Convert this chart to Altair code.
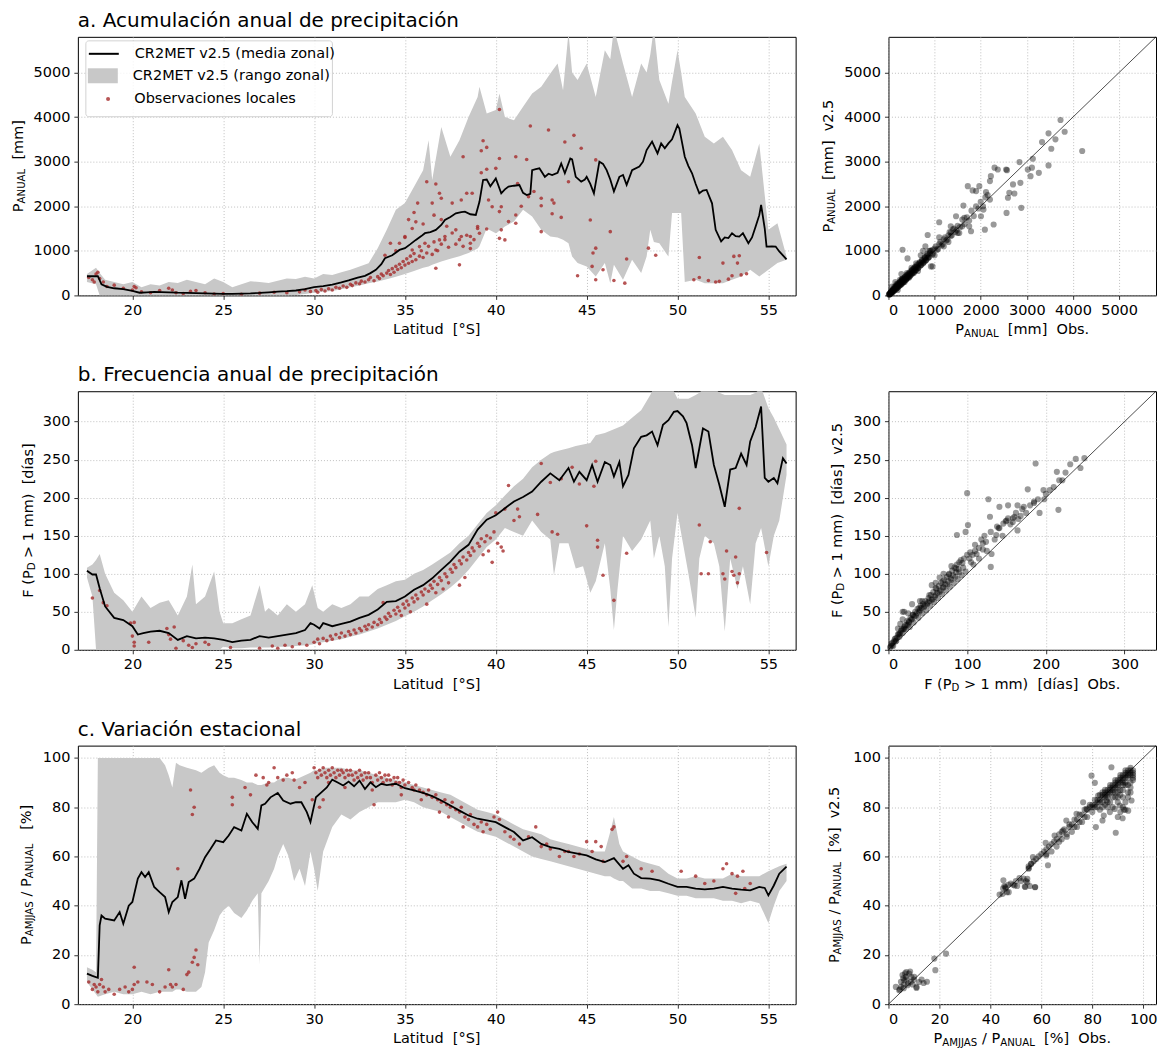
import altair as alt
import pandas as pd

FONT = "DejaVu Sans"
GRAY = "#c8c8c8"
RED = "#a52a2a"
NB = "\u00a0"

LAT_TICKS = [20, 25, 30, 35, 40, 45, 50, 55]
LEG_LABELS = ["CR2MET v2.5 (media zonal)", "CR2MET v2.5 (rango zonal)", "Observaciones locales"]
TITLES = ["a. Acumulación anual de precipitación", "b. Frecuencia anual de precipitación", "c. Variación estacional"]

# ---------------- panel a : annual precipitation [mm] ----------------
A_MEAN = [(17.5, 430), (17.8, 430), (18.1, 430), (18.3, 250), (18.6, 190), (19.0, 160), (19.5, 140), (20.0, 100),
          (20.4, 60), (20.8, 70), (21.2, 80), (21.6, 75), (22.0, 70), (22.5, 60), (23.0, 55), (23.5, 50), (24.0, 45),
          (24.5, 40), (25.0, 35), (25.5, 35), (26.0, 40), (26.5, 45), (27.0, 55), (27.5, 70), (28.0, 85), (28.5, 95),
          (29.0, 110), (29.5, 140), (30.0, 187), (30.5, 210), (31.0, 240), (31.5, 290), (31.9, 335), (32.4, 400),
          (32.8, 440), (33.1, 500), (33.4, 575), (33.7, 700), (33.9, 835), (34.3, 900), (34.7, 1020), (35.0, 1060),
          (35.3, 1150), (35.6, 1245), (35.9, 1330), (36.1, 1395), (36.4, 1420), (36.7, 1470), (37.0, 1580),
          (37.2, 1690), (37.5, 1760), (37.8, 1840), (38.1, 1870), (38.3, 1880), (38.6, 1820), (38.9, 1805),
          (39.1, 2100), (39.3, 2590), (39.5, 2600), (39.7, 2450), (40.0, 2625), (40.3, 2290), (40.5, 2380),
          (40.7, 2440), (41.0, 2460), (41.3, 2475), (41.5, 2300), (41.7, 2250), (41.9, 2280), (42.0, 2810),
          (42.2, 2830), (42.4, 2850), (42.7, 2660), (42.9, 2730), (43.1, 2700), (43.4, 2750), (43.6, 2960),
          (43.8, 2740), (44.1, 3070), (44.2, 3050), (44.4, 2660), (44.7, 2550), (44.9, 2600), (45.0, 2660),
          (45.2, 2500), (45.4, 2290), (45.7, 3000), (45.9, 2950), (46.1, 2810), (46.3, 2600), (46.5, 2330),
          (46.8, 2660), (47.0, 2700), (47.2, 2480), (47.5, 2810), (47.9, 2890), (48.1, 3000), (48.3, 3260),
          (48.6, 3450), (48.9, 3185), (49.1, 3410), (49.3, 3300), (49.5, 3410), (49.7, 3500), (50.0, 3820),
          (50.1, 3745), (50.4, 3110), (50.6, 2900), (50.8, 2740), (51.0, 2500), (51.2, 2290), (51.4, 2350),
          (51.6, 2365), (51.9, 2065), (52.1, 1470), (52.4, 1210), (52.6, 1300), (52.8, 1285), (53.0, 1395),
          (53.2, 1330), (53.4, 1320), (53.6, 1395), (53.9, 1170), (54.1, 1300), (54.3, 1545), (54.5, 1800),
          (54.6, 2030), (54.8, 1500), (54.9, 1095), (55.2, 1100), (55.4, 1095), (55.6, 985), (55.8, 900), (56.0, 810)]

A_RANGE = [(17.5, 300, 480), (18.0, 250, 620), (18.2, 0, 500), (18.5, 0, 350), (19.0, 0, 300), (19.5, 0, 250),
           (20.0, 0, 300), (20.5, 0, 180), (21.0, 0, 250), (21.5, 0, 220), (22.0, 0, 300), (22.5, 0, 280),
           (23.0, 0, 350), (23.5, 0, 300), (24.0, 0, 250), (24.5, 0, 380), (25.0, 0, 300), (25.5, 0, 180),
           (26.0, 0, 250), (26.5, 0, 320), (27.0, 0, 300), (27.5, 0, 280), (28.0, 0, 330), (28.5, 0, 380),
           (29.0, 10, 370), (29.5, 30, 420), (30.0, 60, 380), (30.5, 80, 480), (31.0, 100, 460), (31.5, 140, 520),
           (32.0, 180, 575), (32.5, 220, 650), (33.0, 270, 720), (33.5, 310, 1060), (34.0, 360, 1470),
           (34.5, 420, 1920), (35.0, 480, 2070), (35.5, 550, 2440), (36.0, 620, 2810), (36.3, 650, 3480),
           (36.5, 690, 2590), (37.0, 760, 3780), (37.5, 820, 3110), (38.0, 880, 3480), (38.5, 950, 4000),
           (39.0, 1050, 4450), (39.1, 1100, 4680), (39.5, 1500, 4080), (40.0, 1395, 4160), (40.2, 1450, 4530),
           (40.5, 1545, 4000), (41.0, 1655, 3930), (41.5, 1920, 4230), (42.0, 1770, 4530), (42.5, 1470, 4680),
           (43.0, 1320, 4980), (43.4, 1300, 5200), (43.7, 1250, 4600), (44.0, 1170, 5900), (44.2, 870, 5000),
           (44.5, 725, 4830), (45.0, 650, 5200), (45.5, 425, 4450), (46.0, 725, 5500), (46.3, 275, 5300),
           (46.5, 685, 6000), (47.0, 350, 5200), (47.5, 800, 4450), (48.0, 500, 5200), (48.3, 870, 5000),
           (48.5, 1470, 5400), (48.7, 1200, 6000), (49.0, 1170, 4830), (49.5, 870, 4300), (49.7, 1850, 4800),
           (50.0, 1850, 5500), (50.2, 1850, 5000), (50.4, 300, 4450), (51.0, 350, 4080), (51.5, 275, 3560),
           (52.0, 275, 3410), (52.5, 275, 3560), (53.0, 350, 3260), (53.5, 425, 2810), (54.0, 575, 2660),
           (54.5, 425, 3410), (55.0, 575, 1470), (55.5, 725, 1620), (56.0, 800, 870)]

A_OBS = [(17.6, 400), (17.8, 350), (17.9, 300), (18.0, 480), (18.1, 520), (18.2, 380), (18.4, 300), (18.6, 200),
         (19.0, 230), (19.5, 160), (20.0, 120), (20.1, 200), (20.2, 170), (20.5, 80), (21.0, 60), (21.5, 110),
         (22.0, 160), (22.2, 120), (22.4, 60), (22.8, 40), (23.2, 90), (23.5, 110), (24.0, 60), (24.5, 30),
         (25.0, 40), (26.0, 25), (27.0, 50), (27.8, 70), (28.5, 60), (29.2, 80), (29.5, 120),
         (29.8, 90), (30.1, 110), (30.2, 70), (30.4, 130), (30.6, 100), (30.8, 150), (31.0, 120), (31.2, 180),
         (31.4, 160), (31.6, 210), (31.8, 180), (32.0, 250), (32.1, 220), (32.3, 280), (32.5, 260), (32.6, 320),
         (32.8, 300), (33.0, 350), (33.1, 400), (33.3, 330), (33.5, 420), (33.6, 380), (33.7, 480), (33.8, 440),
         (34.0, 500), (34.1, 560), (34.2, 470), (34.3, 600), (34.4, 520), (34.5, 650), (34.6, 580), (34.7, 700),
         (34.8, 620), (34.9, 760), (35.0, 680), (35.1, 820), (35.2, 720), (35.3, 880), (35.4, 760), (35.5, 940),
         (35.6, 800), (35.8, 880), (35.9, 1000), (36.0, 850), (36.2, 950), (36.3, 1100), (36.5, 920),
         (36.6, 1200), (36.8, 1000), (37.0, 1150), (37.2, 1250), (37.4, 1080), (37.6, 1400), (37.8, 1150),
         (38.0, 1250), (38.2, 1100), (38.4, 1350), (38.6, 1050), (38.8, 1250), (39.0, 1500), (33.9, 900),
         (34.5, 1000), (35.0, 1300), (35.4, 1500), (35.2, 1700), (35.6, 1650), (36.0, 1600), (36.6, 1800),
         (37.0, 1700), (37.3, 1550),
         (40.2, 4170), (41.9, 3800), (42.9, 3710), (44.3, 3590), (43.8, 3440), (44.7, 3300), (39.5, 3320),
         (39.3, 3470), (39.2, 3245), (38.2, 3110), (40.2, 3070), (41.1, 3110), (41.7, 3050), (39.2, 2750),
         (39.5, 2830), (40.0, 2850), (36.2, 2550), (36.7, 2500), (44.0, 2550), (45.5, 3040), (41.2, 2510),
         (42.1, 2330), (41.8, 2215), (38.7, 2290), (38.4, 2290), (38.1, 2140), (37.6, 2070), (36.9, 2290),
         (37.0, 2180), (36.5, 2070), (35.7, 2070), (35.5, 1860), (43.1, 2140), (43.2, 2070), (42.5, 2180),
         (42.5, 2010), (43.1, 1830), (43.6, 1750), (41.1, 1805), (40.2, 1880), (40.3, 1990), (39.8, 1990),
         (39.6, 2140), (41.4, 2000), (41.1, 1620), (40.7, 1655), (40.3, 1470), (40.5, 1245), (40.2, 1280),
         (42.5, 1430), (39.5, 1490), (39.0, 1545), (39.1, 1395), (38.6, 1170), (38.6, 1320), (38.1, 1320),
         (37.8, 1470), (37.2, 1320), (36.9, 1245), (36.7, 1020), (36.1, 1170), (35.8, 1095), (35.4, 1020),
         (35.0, 1320), (34.7, 1170), (34.2, 1170), (36.7, 610), (38.0, 685), (46.3, 1430), (45.2, 1690),
         (45.5, 1060), (45.35, 950), (45.3, 650), (44.5, 440), (45.5, 350), (45.9, 575), (46.5, 335),
         (47.1, 275), (47.2, 815), (48.4, 1060), (48.8, 900), (51.2, 850), (50.9, 350), (51.2, 400),
         (51.7, 335), (52.1, 300), (52.5, 725), (53.1, 875), (53.4, 890), (53.3, 725), (53.0, 440),
         (52.8, 365), (53.5, 460), (53.8, 485), (52.3, 315)]

A_SCATTER = [(3730, 3935), (3820, 3670), (3470, 3635), (3330, 3440), (3620, 3500), (3530, 3290), (4200, 3240),
             (3130, 3065), (3470, 2915), (3260, 2750), (3020, 2825), (3080, 2675), (3110, 2865), (2840, 2990),
             (2300, 2865), (2370, 2825), (2550, 2825), (2570, 2810), (2860, 2525), (2700, 2490), (2620, 2300),
             (2590, 2190), (2730, 2285), (2560, 1850), (2880, 1965), (2280, 1590), (2090, 1475), (2060, 1925),
             (2115, 2315), (2200, 2565), (2220, 2675), (1970, 2450), (1900, 2340), (1825, 2355), (1720, 2450),
             (1625, 2015), (1645, 1740), (1465, 1775), (1535, 1400), (1100, 1640), (1355, 1415), (1750, 1550),
             (1790, 1440), (2005, 1775), (305, 1025), (413, 830), (850, 1355), (955, 1025), (955, 650),
             (50, 60), (80, 70), (100, 120), (120, 110), (150, 170), (170, 150), (200, 230), (220, 200),
             (250, 280), (270, 240), (300, 330), (320, 290), (350, 380), (380, 350), (400, 430), (420, 400),
             (450, 480), (470, 440), (500, 540), (520, 500), (550, 600), (580, 560), (600, 650), (630, 610),
             (660, 700), (700, 680), (720, 760), (750, 720), (780, 820), (800, 780), (830, 880), (860, 840),
             (900, 950), (950, 920), (1000, 1050), (1050, 1020), (1100, 1150), (1150, 1120), (1200, 1260),
             (1250, 1230), (1300, 1350), (1350, 1330), (1400, 1480), (1450, 1420), (1500, 1560), (1550, 1530),
             (1600, 1700), (1650, 1600), (1700, 1750), (1750, 1680), (1800, 1900), (1850, 1780), (1900, 2000),
             (1950, 1950), (2000, 2100), (2050, 2000), (2100, 2200), (2150, 2250), (2200, 2150), (30, 40),
             (10, 20), (60, 100), (130, 200), (180, 260), (250, 350), (300, 380), (350, 300), (400, 500),
             (450, 400), (500, 620), (550, 500), (700, 900), (750, 1000), (800, 1100), (900, 1000), (1100, 1300),
             (1000, 900), (1200, 1100), (1350, 1550), (1300, 1200), (1500, 1400), (1600, 1550), (880, 1000),
             (920, 650), (600, 720), (640, 550), (280, 480), (150, 300), (80, 200), (200, 120), (20, 30),
             (40, 30), (60, 70), (70, 90), (90, 80), (110, 140), (130, 120), (160, 190), (190, 170), (210, 250),
             (240, 220), (260, 300), (290, 260), (310, 350), (340, 320), (360, 410), (390, 370), (410, 450),
             (440, 420), (460, 500), (490, 470), (510, 560), (540, 520), (560, 610), (590, 570), (610, 640),
             (650, 620), (680, 730), (710, 690), (740, 780), (770, 750), (790, 840), (820, 800), (840, 900),
             (870, 860), (15, 25), (25, 20), (35, 50), (45, 40), (55, 75), (65, 55), (75, 100), (85, 75),
             (95, 130), (105, 95), (115, 150), (125, 110), (140, 180), (155, 140), (165, 210), (175, 160),
             (185, 230), (195, 180), (205, 260), (215, 200), (230, 280), (245, 230), (255, 310), (265, 250),
             (275, 330), (285, 270), (295, 360), (305, 290), (315, 370), (330, 310), (345, 400), (355, 340),
             (370, 430), (385, 360), (395, 460), (405, 390), (425, 480), (435, 410), (455, 520), (475, 450),
             (495, 560), (515, 490), (535, 590), (555, 530), (575, 640), (595, 570), (625, 690), (645, 620),
             (675, 740), (695, 670), (725, 800), (755, 730), (785, 860), (815, 790), (845, 930), (885, 860),
             (925, 1000), (965, 940), (1025, 1100), (1075, 1040), (1125, 1200), (1175, 1150), (1225, 1300),
             (1275, 1250), (1325, 1420), (1375, 1350), (1425, 1500), (1475, 1460)]

# ---------------- panel b : frequency of days with P > 1 mm ----------------
B_MEAN = [(17.5, 104), (17.8, 99), (18.0, 99), (18.2, 81), (18.5, 57), (19.0, 42), (19.5, 39), (20.0, 31),
          (20.3, 20), (20.6, 22), (21.0, 24), (21.5, 25), (22.0, 22), (22.5, 13), (23.0, 18), (23.5, 15),
          (24.0, 16), (24.5, 15), (25.0, 13), (25.5, 10), (26.0, 12), (26.5, 13), (27.0, 18), (27.5, 16),
          (28.0, 18), (28.5, 20), (29.0, 22), (29.5, 26), (29.8, 35), (30.0, 33), (30.3, 28), (30.5, 35),
          (31.0, 31), (31.5, 34), (32.0, 37), (32.5, 42), (33.0, 46), (33.5, 53), (34.0, 63), (34.5, 64),
          (35.0, 70), (35.5, 79), (36.0, 85), (36.5, 94), (37.0, 105), (37.5, 116), (38.0, 129), (38.5, 138),
          (39.0, 158), (39.5, 171), (40.0, 177), (40.5, 186), (41.0, 195), (41.5, 201), (42.0, 208), (42.5, 221),
          (43.0, 232), (43.5, 223), (44.0, 239), (44.3, 221), (44.6, 234), (45.0, 223), (45.3, 243), (45.6, 221),
          (46.0, 247), (46.3, 243), (46.5, 228), (46.8, 247), (47.0, 215), (47.3, 230), (47.6, 265), (48.0, 280),
          (48.3, 282), (48.6, 287), (48.9, 269), (49.2, 296), (49.5, 302), (49.8, 313), (50.0, 314), (50.3, 307),
          (50.5, 298), (50.8, 269), (51.0, 239), (51.2, 265), (51.4, 291), (51.7, 287), (52.0, 243), (52.3, 217),
          (52.6, 188), (52.9, 237), (53.2, 239), (53.5, 258), (53.8, 243), (54.0, 274), (54.3, 293), (54.6, 320),
          (54.8, 226), (55.0, 221), (55.3, 226), (55.5, 219), (55.8, 252), (56.0, 245)]

B_RANGE = [(17.5, 95, 108), (17.8, 70, 112), (18.0, 0, 118), (18.2, 0, 126), (18.5, 0, 100), (19.0, 0, 75),
           (19.5, 0, 65), (20.0, 0, 50), (20.5, 0, 70), (21.0, 0, 55), (21.5, 0, 62), (22.0, 0, 65), (22.5, 0, 45),
           (23.0, 0, 70), (23.3, 0, 112), (23.5, 0, 60), (24.0, 0, 70), (24.5, 0, 103), (24.8, 0, 50),
           (25.0, 4, 35), (25.5, 2, 35), (26.0, 2, 40), (26.5, 3, 45), (27.0, 3, 85), (27.3, 3, 50),
           (27.5, 3, 55), (28.0, 4, 45), (28.5, 4, 60), (29.0, 5, 50), (29.5, 6, 60), (29.9, 7, 85),
           (30.2, 9, 55), (30.5, 10, 50), (31.0, 12, 60), (31.5, 14, 55), (32.0, 17, 60), (32.5, 20, 70),
           (33.0, 24, 70), (33.5, 28, 80), (34.0, 33, 85), (34.5, 38, 90), (35.0, 44, 92), (35.5, 50, 100),
           (36.0, 57, 105), (36.5, 65, 112), (37.0, 73, 120), (37.5, 82, 128), (38.0, 92, 140), (38.5, 105, 150),
           (39.0, 120, 165), (39.5, 135, 180), (40.0, 145, 190), (40.5, 160, 203), (41.0, 155, 215),
           (41.5, 150, 225), (42.0, 170, 240), (42.5, 155, 250), (43.0, 145, 258), (43.2, 98, 260),
           (43.5, 140, 262), (44.0, 140, 265), (44.4, 107, 268), (44.8, 110, 270), (45.2, 75, 272),
           (45.5, 90, 282), (46.0, 140, 285), (46.3, 80, 288), (46.5, 26, 290), (46.7, 80, 292), (47.0, 150, 295),
           (47.5, 130, 305), (48.0, 145, 315), (48.5, 170, 335), (48.7, 120, 345), (49.0, 150, 345),
           (49.3, 110, 345), (49.5, 30, 345), (49.7, 120, 345), (50.0, 180, 330), (50.3, 140, 330),
           (50.6, 100, 330), (51.0, 42, 335), (51.2, 120, 338), (51.5, 150, 345), (52.0, 140, 345),
           (52.3, 110, 338), (52.6, 24, 335), (52.9, 120, 335), (53.3, 80, 335), (53.6, 110, 335), (54.0, 60, 335),
           (54.3, 140, 338), (54.6, 160, 345), (55.0, 110, 318), (55.3, 150, 305), (55.6, 170, 290), (56.0, 230, 270)]

B_OBS = [(17.8, 68), (18.2, 78), (18.4, 62), (18.6, 58), (19.9, 35), (20.0, 18), (20.1, 10), (20.1, 5), (20.1, 36),
         (20.9, 10), (21.9, 28), (22.0, 20), (22.1, 14), (22.3, 30), (22.4, 2), (22.8, 12), (23.1, 6), (23.3, 3),
         (23.5, 8), (24.0, 10), (24.2, 7), (25.4, 3), (27.0, 2), (27.7, 5), (28.0, 2), (28.4, 6), (28.8, 4),
         (29.2, 8), (29.6, 6), (30.0, 10), (30.2, 14), (30.3, 8), (30.5, 15), (30.7, 12), (30.9, 18), (31.0, 14),
         (31.2, 20), (31.4, 16), (31.5, 22), (31.7, 18), (31.9, 24), (32.0, 20), (32.2, 26), (32.3, 22),
         (32.5, 28), (32.6, 25), (32.8, 31), (32.9, 27), (33.0, 33), (33.2, 30), (33.3, 36), (33.5, 33),
         (33.6, 40), (33.7, 36), (33.9, 43), (34.0, 40), (34.1, 48), (34.2, 44), (34.4, 52), (34.5, 47),
         (34.6, 56), (34.7, 51), (34.9, 60), (35.0, 55), (35.1, 64), (35.2, 59), (35.4, 68), (35.5, 63),
         (35.6, 72), (35.7, 67), (35.9, 76), (36.0, 72), (36.1, 80), (36.3, 77), (36.4, 85), (36.5, 81),
         (36.6, 90), (36.8, 86), (36.9, 95), (37.0, 91), (37.2, 100), (37.3, 96), (37.5, 106), (37.6, 102),
         (37.7, 112), (37.8, 108), (38.0, 117), (38.1, 113), (38.2, 122), (38.4, 118), (38.5, 128), (38.6, 124),
         (38.7, 134), (38.8, 130), (39.0, 140), (39.1, 136), (39.2, 146), (39.4, 142), (39.5, 150), (39.7, 147),
         (39.9, 155), (33.8, 62), (34.8, 45), (35.3, 50), (36.2, 60), (36.7, 75), (37.4, 88), (38.3, 95),
         (38.0, 85), (37.1, 80), (39.3, 125), (39.6, 130), (40.1, 140), (40.3, 135), (40.4, 130), (39.8, 115),
         (40.0, 180), (40.5, 185), (40.7, 216), (41.0, 170), (41.2, 185), (41.3, 175), (42.3, 178), (42.5, 245),
         (43.0, 220), (43.1, 155), (43.4, 152), (43.6, 225), (44.2, 240), (44.6, 218), (45.0, 163), (45.4, 215),
         (45.5, 248), (45.6, 144), (45.6, 135), (45.9, 98), (46.5, 65), (47.2, 127), (51.2, 164), (51.3, 100),
         (51.7, 100), (51.8, 142), (52.5, 100), (52.6, 93), (52.7, 130), (53.0, 103), (53.1, 98), (53.2, 122),
         (53.3, 88), (53.4, 100), (53.4, 186), (54.9, 128)]

B_SCATTER = [(100, 206), (127, 198), (129, 175), (87, 151), (101, 164), (98, 155), (131, 126), (130, 109),
             (141, 188), (152, 190), (164, 190), (164, 157), (177, 211), (187, 245), (185, 195), (197, 210),
             (192, 180), (214, 234), (217, 223), (216, 184), (225, 233), (238, 251), (249, 252), (244, 239),
             (231, 244), (221, 223), (198, 198), (158, 173), (149, 169), (141, 160), (137, 151), (124, 142),
             (115, 134), (107, 125), (103, 120), (94, 114), (86, 107), (77, 99), (69, 90), (60, 81), (52, 72),
             (43, 64), (39, 55), (31, 46), (26, 37), (20, 28), (14, 20), (9, 11), (5, 6), (2, 3), (4, 8), (6, 5),
             (8, 14), (10, 12), (12, 20), (14, 17), (16, 25), (18, 22), (20, 30), (22, 27), (25, 33), (27, 30),
             (30, 40), (32, 36), (35, 45), (38, 42), (40, 52), (43, 48), (45, 56), (48, 52), (50, 62), (53, 58),
             (55, 66), (58, 63), (60, 72), (63, 68), (65, 76), (68, 73), (70, 82), (73, 78), (75, 86), (78, 83),
             (80, 92), (83, 88), (85, 96), (88, 93), (90, 102), (93, 98), (95, 108), (98, 103), (105, 115),
             (108, 112), (112, 126), (115, 120), (120, 132), (125, 130), (135, 145), (140, 160), (145, 150),
             (150, 170), (155, 165), (160, 175), (165, 172), (170, 185), (175, 180), (180, 190), (185, 193),
             (190, 198), (200, 205), (205, 210), (210, 214), (12, 28), (15, 34), (18, 40), (20, 50), (25, 48),
             (30, 60), (40, 64), (55, 85), (60, 88), (65, 95), (70, 100), (80, 110), (90, 115), (100, 125),
             (110, 130), (120, 140), (18, 50), (3, 5), (5, 9), (7, 11), (9, 15), (11, 16), (13, 21), (15, 22),
             (17, 27), (19, 27), (21, 32), (23, 33), (24, 38), (26, 36), (28, 42), (29, 40), (31, 46), (33, 44),
             (34, 50), (36, 48), (37, 54), (39, 50), (41, 58), (42, 55), (44, 60), (46, 58), (47, 64), (49, 60),
             (51, 68), (52, 64), (54, 72), (56, 66), (57, 76), (59, 70), (61, 80), (62, 75), (64, 84), (66, 78),
             (67, 88), (69, 82), (71, 92), (72, 86), (74, 96), (76, 90), (77, 100), (79, 94), (81, 104), (82, 98),
             (84, 108), (86, 102), (87, 112), (89, 106), (92, 118), (96, 120), (104, 128), (110, 138), (118, 145),
             (122, 150), (130, 155), (138, 162), (146, 166), (152, 173), (158, 168), (162, 180), (168, 176),
             (172, 188)]

# ---------------- panel c : seasonality AMJJAS / annual [%] ----------------
C_MEAN = [(17.5, 12.4), (17.8, 11.5), (18.1, 10.7), (18.2, 32), (18.3, 36), (18.5, 34.7), (19.0, 34),
          (19.3, 37.4), (19.5, 32.7), (19.8, 40), (20.0, 41.5), (20.3, 51), (20.5, 53.6), (20.7, 51.6),
          (20.9, 53.6), (21.2, 47.6), (21.5, 45.5), (21.8, 43.5), (22.0, 37.4), (22.2, 41.5), (22.5, 43.5),
          (22.7, 50.3), (22.9, 42.8), (23.1, 49.6), (23.4, 51), (23.7, 55), (24.0, 59.7), (24.3, 63),
          (24.6, 66.5), (25.0, 65.8), (25.3, 68.5), (25.6, 71.9), (26.0, 70.5), (26.3, 77.3), (26.6, 73.9),
          (26.9, 71.2), (27.1, 80.7), (27.3, 81.4), (27.6, 84), (28.0, 85.8), (28.3, 82.7), (28.7, 81.4),
          (29.0, 82), (29.3, 82), (29.6, 78), (29.8, 74), (30.1, 84), (30.4, 86), (30.7, 88), (31.0, 91.2),
          (31.3, 90), (31.6, 88.8), (31.9, 90.4), (32.2, 88.5), (32.5, 90.8), (32.8, 87.4), (33.1, 90.1),
          (33.4, 88.1), (33.7, 89.5), (34.0, 89), (34.5, 89.5), (35.0, 87.7), (35.5, 86.8), (36.0, 85.8),
          (36.5, 84.5), (37.0, 82.7), (37.5, 80.7), (38.0, 78.6), (38.5, 76.6), (39.0, 75.3), (39.5, 74.6),
          (40.0, 73.9), (40.5, 71.9), (41.0, 69.9), (41.5, 66.5), (42.0, 67.8), (42.5, 65.1), (43.0, 63.8),
          (43.5, 63.1), (44.0, 61.8), (44.5, 61.1), (45.0, 60.4), (45.5, 58.8), (46.0, 57.7), (46.5, 59.3),
          (47.0, 55), (47.3, 56.4), (47.6, 53), (48.0, 51.2), (48.5, 51), (49.0, 50.3), (49.5, 48.9), (50.0, 47.6),
          (50.5, 47.6), (51.0, 46.9), (51.5, 46.6), (52.0, 46.9), (52.5, 47.6), (53.0, 46.9), (53.5, 46.5),
          (54.0, 46.2), (54.5, 47.6), (54.8, 47.2), (55.0, 44.2), (55.3, 48.2), (55.6, 53), (56.0, 55.9)]

C_RANGE = [(17.5, 9, 15), (17.8, 6, 14), (18.0, 4, 13), (18.1, 3, 100), (18.5, 4, 100), (19.0, 5, 100),
           (19.5, 4, 100), (20.0, 4, 100), (20.5, 5, 100), (21.0, 4, 100), (21.5, 5, 100), (21.8, 5, 97),
           (22.0, 5, 93), (22.2, 5, 88), (22.4, 6, 98), (22.6, 6, 97), (23.0, 5, 96), (23.5, 5, 95), (23.8, 7, 94),
           (24.0, 13, 95), (24.2, 25, 96), (24.5, 30, 97), (24.8, 36, 94), (25.0, 38, 93), (25.3, 40, 92),
           (25.6, 37, 92), (26.0, 35, 91), (26.3, 38, 90), (26.6, 42, 90), (26.9, 45, 89), (27.0, 16, 89),
           (27.1, 45, 89), (27.5, 50, 90), (27.8, 55, 90), (28.0, 60, 91), (28.3, 65, 92), (28.6, 60, 92),
           (28.9, 50, 91), (29.2, 55, 92), (29.5, 48, 93), (29.8, 62, 94), (30.0, 55, 95), (30.2, 46, 95),
           (30.5, 62, 96), (31.0, 72, 96), (31.5, 77, 96), (32.0, 75, 95), (32.5, 78, 95), (33.0, 80, 94),
           (33.5, 82, 93), (34.0, 82, 92), (34.5, 82, 91), (35.0, 83, 90), (35.5, 82, 89), (36.0, 80, 88),
           (36.5, 79, 87), (37.0, 78, 86), (37.5, 76, 85), (38.0, 74, 83), (38.5, 72, 81), (39.0, 70, 79),
           (39.5, 69, 78), (40.0, 68, 77), (40.5, 66, 75), (41.0, 64, 73), (41.5, 62, 71), (42.0, 60, 70),
           (42.5, 59, 69), (43.0, 58, 67), (43.5, 57, 66), (44.0, 56, 65), (44.5, 55, 64), (45.0, 54, 63),
           (45.5, 53, 62), (46.0, 52, 62), (46.3, 52, 70), (46.5, 51, 76), (46.8, 50, 65), (47.0, 50, 62),
           (47.5, 47, 60), (48.0, 47, 58), (48.5, 46, 57), (49.0, 46, 56), (49.5, 45, 53), (50.0, 44, 51),
           (50.5, 44, 51), (51.0, 43, 52), (51.5, 43, 51), (52.0, 43, 51), (52.5, 42, 51), (53.0, 42, 53),
           (53.5, 41, 52), (54.0, 42, 52), (54.5, 41, 52), (55.0, 33, 54), (55.3, 40, 55), (55.6, 46, 56),
           (56.0, 50, 57)]

C_OBS = [(17.6, 9), (17.8, 6), (17.9, 8), (18.0, 7), (18.1, 5), (18.2, 8), (18.3, 10), (18.4, 7), (18.5, 5),
         (18.7, 6), (19.0, 4), (19.3, 6), (19.6, 7), (19.8, 5), (20.0, 6), (20.1, 15), (20.1, 8), (20.3, 9),
         (20.8, 9), (21.1, 8), (21.5, 5), (21.8, 7), (22.0, 14), (22.1, 8), (22.2, 7), (22.4, 8), (22.5, 55),
         (22.8, 6), (23.0, 12), (23.1, 13), (23.2, 87), (23.3, 77), (23.3, 17), (23.4, 80), (23.4, 19),
         (23.5, 22), (23.6, 16), (25.5, 84), (25.5, 81), (26.2, 88), (26.5, 85), (26.8, 93), (27.2, 92),
         (27.4, 89), (27.5, 90), (27.8, 96), (28.0, 92), (28.3, 91), (28.5, 93), (28.8, 94), (28.9, 91),
         (29.2, 88), (29.5, 90), (29.9, 83), (30.3, 80), (30.5, 83), (33.3, 81), (30.0, 96), (30.1, 94),
         (30.2, 92), (30.3, 95), (30.4, 93), (30.5, 96), (30.6, 94), (30.7, 92), (30.8, 95), (30.9, 93),
         (31.0, 96), (31.1, 94), (31.2, 92), (31.3, 95), (31.4, 93), (31.5, 95), (31.6, 94), (31.7, 92),
         (31.8, 95), (31.9, 93), (32.0, 95), (32.1, 93), (32.2, 91), (32.3, 94), (32.4, 92), (32.5, 95),
         (32.6, 93), (32.7, 91), (32.8, 94), (32.9, 92), (33.0, 94), (33.1, 92), (33.2, 90), (33.4, 93),
         (33.5, 91), (33.6, 94), (33.7, 92), (33.8, 90), (33.9, 93), (34.0, 91), (34.1, 93), (34.2, 91),
         (34.3, 89), (34.4, 92), (34.5, 90), (34.6, 92), (34.7, 90), (34.8, 88), (34.9, 91), (35.0, 89),
         (35.2, 90), (35.4, 88), (35.5, 87), (35.6, 89), (35.8, 87), (36.0, 86), (36.2, 85), (36.3, 87),
         (36.5, 84), (36.7, 85), (36.8, 83), (37.0, 82), (37.2, 83), (37.3, 81), (37.5, 80), (37.6, 82),
         (37.8, 79), (38.0, 78), (38.1, 80), (38.3, 76), (38.5, 75), (38.6, 77), (38.8, 73), (39.0, 72),
         (39.2, 74), (39.3, 70), (39.5, 73), (39.7, 71), (39.9, 76), (40.1, 78), (40.2, 75), (38.2, 72),
         (37.4, 76), (36.9, 78), (35.9, 83), (34.8, 85), (33.2, 87), (31.7, 88), (30.8, 90), (40.5, 70),
         (40.8, 68), (41.0, 67), (41.3, 65), (41.8, 68), (42.2, 72), (42.5, 64), (42.8, 65), (43.0, 63),
         (43.5, 60), (43.8, 62), (44.0, 62), (44.3, 60), (44.6, 61), (45.0, 66), (45.3, 62), (45.5, 66),
         (45.8, 64), (45.9, 58), (46.4, 71), (46.5, 72), (47.0, 58), (47.2, 60), (48.0, 55), (48.6, 54),
         (50.2, 54), (51.0, 52), (51.5, 49), (52.0, 50), (52.5, 55), (52.7, 57), (53.0, 53), (53.2, 45),
         (53.3, 52), (53.6, 54), (53.7, 47), (54.0, 49)]

C_SCATTER = [(87.5, 96.2), (79.7, 92.8), (81, 89.9), (81.4, 71.9), (89.2, 69.6), (84, 74.6), (84.5, 76.6),
             (86.9, 78), (88.8, 79.3), (91.9, 75.5), (94.1, 78.6), (92.4, 79), (95.4, 82.7), (90.8, 80.7),
             (82.3, 84.7), (85.6, 82.7), (76.4, 82), (77.7, 79.3), (73.8, 77.3), (69.8, 74.6), (68.5, 70.5),
             (65.2, 68.5), (61.7, 65.5), (61.9, 60.4), (62.6, 56.4), (56.7, 59.7), (57.6, 47.6), (55.1, 55.3),
             (54.5, 50.9), (53.7, 47.6), (51.4, 51.2), (49.5, 48.2), (45.1, 50.3), (45.9, 47.6), (47.2, 45.5),
             (43.6, 44.5), (22.6, 20.5), (18.4, 13.8), (18, 18.5), (15.1, 9.1), (13.8, 8.6), (11, 6.6),
             (10.1, 11.1), (4.2, 5.7), (2.9, 7.0), (62, 63), (64, 65), (66, 67), (67, 66), (68, 70), (70, 69),
             (71, 72), (72, 73), (73, 72), (74, 75), (75, 74), (76, 77), (77, 76), (78, 79), (79, 80), (80, 81),
             (81, 80), (82, 83), (83, 82), (84, 85), (85, 84), (86, 87), (87, 86), (88, 89), (89, 88), (90, 91),
             (91, 90), (92, 93), (93, 92), (94, 94), (95, 93), (96, 94), (95, 95), (94, 92), (93, 95), (92, 90),
             (91, 93), (90, 88), (89, 91), (88, 86), (87, 89), (86, 84), (85, 87), (84, 82), (83, 85), (82, 80),
             (81, 83), (80, 78), (79, 81), (78, 76), (77, 79), (76, 74), (75, 77), (74, 72), (73, 75), (72, 70),
             (71, 73), (70, 68), (69, 71), (68, 67), (67, 69), (66, 64), (65, 66), (64, 62), (63, 64), (62, 61),
             (61, 62), (60, 61), (59, 60), (58, 59), (57, 58), (56, 57), (55, 56), (88, 80), (90, 82), (92, 84),
             (91, 78), (93, 79), (94, 86), (95, 88), (89, 84), (87, 82), (86, 80), (96, 91), (93, 89), (92, 87),
             (4.9, 9.1), (6.2, 9.7), (6.8, 11.1), (8.1, 12.4), (7.5, 7.7), (5.5, 11.8), (8.8, 9.1), (6, 8),
             (7, 10), (5, 7), (9, 11), (6.5, 12.5), (7.8, 8.5), (5.8, 10.5), (8.5, 13.2), (4.5, 6.0), (10, 10),
             (9.5, 8), (11, 7), (12, 9), (13, 10), (7, 13), (6, 6.5), (45, 47), (45.5, 48), (46, 47), (47, 48.5),
             (48, 49), (50, 50), (50.5, 48), (52, 50), (53, 51), (54, 50), (54.5, 49.5), (55, 55), (56, 57),
             (57.5, 47.5), (53.5, 47.8), (55.5, 48), (44.8, 44.8), (46.5, 45.5), (49, 48.5), (84, 86), (85, 86),
             (86, 85), (87, 88), (88, 87), (89, 90), (90, 89), (91, 92), (92, 91), (93, 94), (94, 93), (95, 94),
             (96, 95), (93, 93), (92, 92), (91, 91), (90, 90), (89, 89), (88, 88), (87, 87), (86, 86), (85, 85),
             (84, 84), (83, 83), (82, 82), (81, 81), (80, 80), (94, 95), (95, 96), (96, 93), (93, 90), (92, 89),
             (91, 87), (90, 86), (89, 86), (88, 84), (94, 89), (95, 90), (96, 92), (90, 84), (91, 85), (86, 82),
             (85, 81), (84, 80), (83, 79), (92, 80), (93, 82), (94, 84), (95, 86), (90, 76)]

# axis extents and ticks
A_MAX, B_MAX, C_MAX = 5800, 340, 105
A_TICKS = [0, 1000, 2000, 3000, 4000, 5000]
B_TICKS = [0, 50, 100, 150, 200, 250, 300]
B_SC_XTICKS = [0, 100, 200, 300]
C_TICKS = [0, 20, 40, 60, 80, 100]

# ---------------- layout ----------------
W_MAIN, W_SC, H = 719, 268, 259
FS, FSUB, DROP = 14.5, 10.2, 2.5

EM = {" ": .318, NB: .318, "(": .390, ")": .390, "/": .337, "%": .950, ".": .318, ">": .838, "A": .684,
      "D": .770, "F": .575, "J": .295, "L": .557, "M": .863, "N": .748, "O": .787, "P": .603, "S": .635,
      "U": .732, "[": .390, "]": .390, "a": .613, "b": .635, "d": .635, "í": .278, "m": .974, "s": .521,
      "v": .592, "°": .500, "t": .392, "u": .634, "i": .278}
for _d in "0123456789":
    EM[_d] = .636


def tw(s, size):
    return sum(EM.get(c, 0.6) for c in s) * size


def rich(parts, vertical, center, base):
    """Text pieces of different sizes placed one after another (leading blanks become offsets)."""
    total = sum(tw(t, s) for t, s, _ in parts)
    pos = center + total / 2 if vertical else center - total / 2
    out = []
    for t, s, drop in parts:
        body = t.lstrip(" " + NB)
        lead = tw(t[:len(t) - len(body)], s)
        df = pd.DataFrame({"t": [body]})
        if vertical:
            m = alt.Chart(df).mark_text(angle=270, align="left", baseline="alphabetic", font=FONT,
                                        fontSize=s, color="black").encode(
                x=alt.value(base + drop), y=alt.value(pos - lead), text="t:N")
            pos -= tw(t, s)
        else:
            m = alt.Chart(df).mark_text(align="left", baseline="alphabetic", font=FONT,
                                        fontSize=s, color="black").encode(
                x=alt.value(pos + lead), y=alt.value(base + drop), text="t:N")
            pos += tw(t, s)
        out.append(m)
    return out


def sp(s):
    return s.replace(" ", NB)


def P(sub):
    return [("P", FS, 0), (sub, FSUB, DROP)]


def F_parts(tail):
    return [(sp("F (P"), FS, 0), ("D", FSUB, DROP), (sp(" > 1 mm)  [días]" + tail), FS, 0)]


Y_MAIN = [P("ANUAL") + [(sp("  [mm]"), FS, 0)],
          F_parts(""),
          P("AMJJAS") + [(sp(" / P"), FS, 0), ("ANUAL", FSUB, DROP), (sp("   [%]"), FS, 0)]]
Y_SC = [P("ANUAL") + [(sp("  [mm]  v2.5"), FS, 0)],
        F_parts("  v2.5"),
        P("AMJJAS") + [(sp(" / P"), FS, 0), ("ANUAL", FSUB, DROP), (sp("  [%]  v2.5"), FS, 0)]]
X_SC = [P("ANUAL") + [(sp("  [mm]  Obs."), FS, 0)],
        F_parts("  Obs."),
        P("AMJJAS") + [(sp(" / P"), FS, 0), ("ANUAL", FSUB, DROP), (sp("  [%]  Obs."), FS, 0)]]
Y_MAIN_BASE = [-55, -45, -47]
Y_SC_BASE = [-56, -47, -50]


def main_panel(i, mean, rng, obs, ymax, yticks, legend):
    xs = alt.Scale(domain=[17, 56.5], nice=False, zero=False)
    ys = alt.Scale(domain=[0, ymax], nice=False)
    xax = alt.Axis(values=LAT_TICKS, format="d", title=None)
    yax = alt.Axis(values=yticks, format="d", title=None)
    rdf = pd.DataFrame(rng, columns=["lat", "lo", "hi"])
    mdf = pd.DataFrame(mean, columns=["lat", "v"])
    odf = pd.DataFrame(obs, columns=["lat", "v"])
    rdf["s"] = LEG_LABELS[1]
    mdf["s"] = LEG_LABELS[0]
    odf["s"] = LEG_LABELS[2]

    area = alt.Chart(rdf).mark_area(clip=True, color=GRAY, opacity=1).encode(
        x=alt.X("lat:Q", scale=xs, axis=xax), y=alt.Y("hi:Q", scale=ys, axis=yax), y2="lo:Q")
    pts = alt.Chart(odf).mark_circle(size=13, color=RED, opacity=0.8, clip=True).encode(
        x="lat:Q", y="v:Q")
    line = alt.Chart(mdf).mark_line(color="black", strokeWidth=1.8).encode(x="lat:Q", y="v:Q")
    layers = [area, pts, line]
    if legend:
        common = dict(title=None, orient="none", labelFont=FONT, labelFontSize=FS, labelColor="black",
                      labelLimit=0, padding=0, zindex=1)
        area = area.encode(fill=alt.Fill("s:N", scale=alt.Scale(domain=[LEG_LABELS[1]], range=[GRAY]),
                                         legend=alt.Legend(legendX=10, legendY=24, symbolType="M-1,-0.5H1V0.5H-1Z",
                                                           symbolSize=900, symbolStrokeWidth=0, symbolOpacity=1,
                                                           labelOffset=15, **common)))
        line = line.encode(stroke=alt.Stroke("s:N", scale=alt.Scale(domain=[LEG_LABELS[0]], range=["black"]),
                                             legend=alt.Legend(legendX=10, legendY=1, symbolType="stroke",
                                                               symbolSize=900, symbolStrokeWidth=2,
                                                               labelOffset=15, **common)))
        pts = pts.encode(color=alt.Color("s:N", scale=alt.Scale(domain=[LEG_LABELS[2]], range=[RED]),
                                         legend=alt.Legend(legendX=23, legendY=55, symbolType="circle",
                                                           symbolSize=16, symbolOpacity=0.8, labelOffset=19,
                                                           **common)))
        frame = alt.Chart(pd.DataFrame({"k": [0]})).mark_rect(
            fill="white", stroke="#cccccc", strokeWidth=1, cornerRadius=3, opacity=0.85).encode(
            x=alt.value(8), x2=alt.value(255), y=alt.value(4), y2=alt.value(80))
        layers = [area, pts, line, frame]
    title = alt.Chart(pd.DataFrame({"t": [TITLES[i]]})).mark_text(
        align="left", baseline="alphabetic", font=FONT, fontSize=20, color="black").encode(
        x=alt.value(0), y=alt.value(-10), text="t:N")
    layers += [title]
    layers += rich(Y_MAIN[i], True, H / 2, Y_MAIN_BASE[i])
    layers += rich([(sp("Latitud  [°S]"), FS, 0)], False, W_MAIN / 2, H + 39)
    ch = alt.layer(*layers).properties(width=W_MAIN, height=H)
    if legend:
        ch = ch.resolve_scale(color="independent", fill="independent", stroke="independent")
    return ch


def scatter_panel(i, pairs, dmax, xticks, yticks):
    sc = alt.Scale(domain=[0, dmax], nice=False)
    df = pd.DataFrame(pairs, columns=["o", "m"])
    pts = alt.Chart(df).mark_circle(size=38, color="black", opacity=0.4).encode(
        x=alt.X("o:Q", scale=sc, axis=alt.Axis(values=xticks, format="d", title=None)),
        y=alt.Y("m:Q", scale=sc, axis=alt.Axis(values=yticks, format="d", title=None)))
    diag = alt.Chart(pd.DataFrame({"o": [0, dmax], "m": [0, dmax]})).mark_line(
        color="black", strokeWidth=0.7).encode(x="o:Q", y="m:Q")
    layers = [pts, diag]
    layers += rich(Y_SC[i], True, H / 2, Y_SC_BASE[i])
    layers += rich(X_SC[i], False, W_SC / 2, H + 39)
    return alt.layer(*layers).properties(width=W_SC, height=H)


charts = [
    main_panel(0, A_MEAN, A_RANGE, A_OBS, A_MAX, A_TICKS, True),
    scatter_panel(0, A_SCATTER, A_MAX, A_TICKS, A_TICKS),
    main_panel(1, B_MEAN, B_RANGE, B_OBS, B_MAX, B_TICKS, False),
    scatter_panel(1, B_SCATTER, B_MAX, B_SC_XTICKS, B_TICKS),
    main_panel(2, C_MEAN, C_RANGE, C_OBS, C_MAX, C_TICKS, False),
    scatter_panel(2, C_SCATTER, C_MAX, C_TICKS, C_TICKS),
]

chart = alt.concat(*charts, columns=2, spacing={"row": 24, "column": 23}, align="each").resolve_scale(
    color="independent", fill="independent", stroke="independent"
).properties(
    padding={"left": 10, "top": 9, "right": 0, "bottom": 0}
).configure(font=FONT).configure_view(
    stroke="black", strokeWidth=1
).configure_axis(
    domain=False, grid=True, gridColor="#b0b0b0", gridDash=[1, 2], gridWidth=0.8,
    ticks=True, tickColor="black", tickSize=4, tickWidth=0.8,
    labelFont=FONT, labelFontSize=FS, labelColor="black", labelPadding=4
)

chart.save("out.html", embed_options={"renderer": "svg", "actions": False})
